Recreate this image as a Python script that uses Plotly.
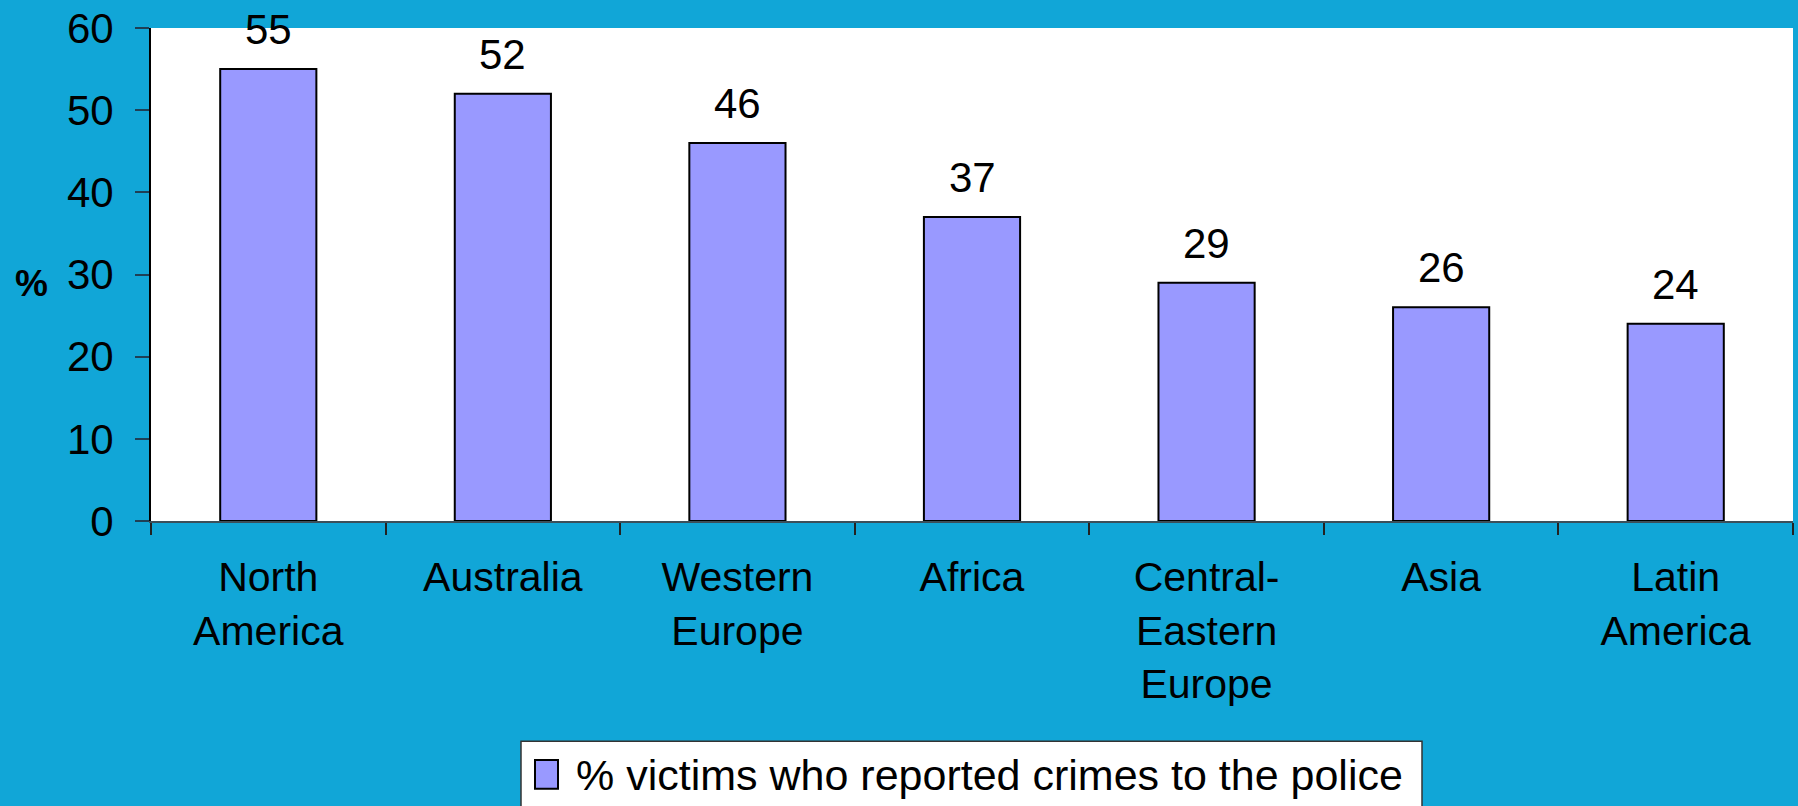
import plotly.graph_objects as go

# Share of victims reporting crimes to the police, by world region
regions = ["North<br>America", "Australia", "Western<br>Europe", "Africa",
           "Central-<br>Eastern<br>Europe", "Asia", "Latin<br>America"]
reported_pct = [55, 52, 46, 37, 29, 26, 24]
y_ticks = [0, 10, 20, 30, 40, 50, 60]
series_name = "% victims who reported crimes to the police"

W, H = 1798, 806
ML, MR, MT, MB = 151, 5, 24, 285
BG = "#11A6D7"
BAR = "#9999FF"
FONT = "Liberation Sans, Arial, sans-serif"

pw = W - ML - MR
ph = H - MT - MB


def px_x(x):
    return (x - ML) / pw


def px_y(y):
    return (H - MB - y) / ph


fig = go.Figure()
fig.add_trace(go.Bar(
    x=regions, y=reported_pct, name=series_name,
    marker=dict(color=BAR, line=dict(color="black", width=2)),
    width=0.41, showlegend=False,
))

# value labels above each bar
for r, v in zip(regions, reported_pct):
    fig.add_annotation(x=r, y=v, text=str(v), showarrow=False,
                       yanchor="bottom", yshift=14,
                       font=dict(family=FONT, size=42, color="black"))

# "%" axis label
fig.add_annotation(xref="paper", yref="paper", x=px_x(31), y=px_y(282),
                   text="<b>%</b>", showarrow=False,
                   xanchor="center", yanchor="middle",
                   font=dict(family=FONT, size=37, color="black"))

# legend box
fig.add_shape(type="rect", xref="paper", yref="paper",
              x0=px_x(521), x1=px_x(1422), y0=px_y(743), y1=px_y(812),
              fillcolor="white", line=dict(color="#333333", width=1.5))
fig.add_shape(type="rect", xref="paper", yref="paper",
              x0=px_x(535), x1=px_x(558), y0=px_y(762), y1=px_y(791),
              fillcolor=BAR, line=dict(color="black", width=2))
fig.add_annotation(xref="paper", yref="paper", x=px_x(574), y=px_y(777),
                   text=series_name, showarrow=False,
                   xanchor="left", yanchor="middle",
                   font=dict(family=FONT, size=43, color="black"))

fig.update_layout(
    width=W, height=H,
    margin=dict(l=ML, r=MR, t=MT, b=MB, pad=0),
    paper_bgcolor=BG, plot_bgcolor="white",
    font=dict(family=FONT, size=41, color="black"),
    showlegend=False,
    bargap=0.59,
)
fig.update_xaxes(
    showline=True, linecolor="#3c4f5a", linewidth=2,
    ticks="outside", tickson="boundaries", ticklen=12, tickcolor="#222",
    tickwidth=1.5, showgrid=False, zeroline=False,
    tickfont=dict(family=FONT, size=41, color="black"),
    ticklabelstandoff=19,
)
fig.update_yaxes(
    range=[0, 60], tickvals=y_ticks, showline=True, linecolor="black",
    linewidth=2, ticks="outside", ticklen=14, tickcolor="#1f3f55",
    tickwidth=1.5, showgrid=False, zeroline=False,
    tickfont=dict(family=FONT, size=42, color="black"),
    ticklabelstandoff=13,
)

fig.write_html("out.html")
